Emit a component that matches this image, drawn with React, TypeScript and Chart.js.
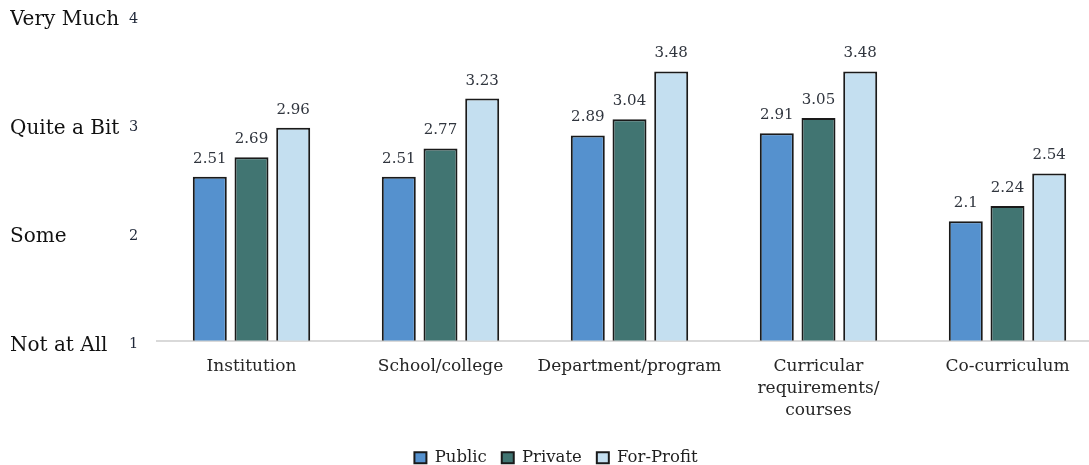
import React, { useEffect, useRef } from "react";
import { Chart, registerables } from "chart.js";

Chart.register(...registerables);

const categories: (string | string[])[] = [
  "Institution",
  "School/college",
  "Department/program",
  ["Curricular", "requirements/", "courses"],
  "Co-curriculum",
];
const publicValues = [2.51, 2.51, 2.89, 2.91, 2.1];
const privateValues = [2.69, 2.77, 3.04, 3.05, 2.24];
const forProfitValues = [2.96, 3.23, 3.48, 3.48, 2.54];
const seriesNames = ["Public", "Private", "For-Profit"];
const scaleWords = ["Not at All", "Some", "Quite a Bit", "Very Much"];
const yTicks = [1, 2, 3, 4];

const FONT = "'DejaVu Serif', serif";

const dataLabelPlugin = {
  id: "dataLabels",
  afterDatasetsDraw(chart: any) {
    const ctx = chart.ctx;
    ctx.save();
    ctx.font = `15px ${FONT}`;
    ctx.fillStyle = "#30353e";
    ctx.textAlign = "center";
    ctx.textBaseline = "alphabetic";
    chart.data.datasets.forEach((ds: any, i: number) => {
      const meta = chart.getDatasetMeta(i);
      meta.data.forEach((bar: any, j: number) => {
        ctx.fillText(String(ds.data[j]), bar.x, bar.y - 14);
      });
    });
    ctx.restore();
  },
};

export default function App() {
  const ref = useRef<HTMLCanvasElement>(null);
  useEffect(() => {
    document.body.style.margin = "0";
    document.body.style.overflow = "hidden";
    const chart = new Chart(ref.current!, {
      type: "bar",
      data: {
        labels: categories,
        datasets: [
          { label: seriesNames[0], data: publicValues, backgroundColor: "#5591ce" },
          { label: seriesNames[1], data: privateValues, backgroundColor: "#417572" },
          { label: seriesNames[2], data: forProfitValues, backgroundColor: "#c4dff0" },
        ].map((d) => ({
          ...d,
          borderColor: "#1a1a1a",
          borderWidth: 2,
          categoryPercentage: 0.662,
          barPercentage: 0.815,
        })),
      },
      options: {
        responsive: false,
        animation: false,
        layout: { padding: { left: 10, top: 15, right: 0, bottom: 0 } },
        plugins: {
          tooltip: { enabled: false },
          legend: {
            position: "bottom",
            labels: {
              boxWidth: 12,
              boxHeight: 11,
              padding: 15,
              color: "#1f1f1f",
              font: { family: FONT, size: 16.5 },
            },
          },
        },
        scales: {
          x: {
            grid: { display: false, drawTicks: false },
            border: { display: true, color: "#d9d9d9", width: 2 },
            ticks: {
              color: "#262626",
              font: { family: FONT, size: 17, lineHeight: 1.3 },
              padding: 15,
              maxRotation: 0,
              autoSkip: false,
            },
            afterFit: (s: any) => {
              s.height = 94;
            },
          },
          y: {
            position: "left",
            weight: 0,
            min: 1,
            max: 4,
            afterBuildTicks: (s: any) => {
              s.ticks = yTicks.map((v) => ({ value: v }));
            },
            grid: { display: false, drawTicks: false },
            border: { display: false },
            ticks: {
              color: "#1f2738",
              font: { family: FONT, size: 14.5 },
              padding: 0,
              crossAlign: "far",
              labelOffset: 4,
            },
            afterFit: (s: any) => {
              s.width = 28;
            },
          },
          yWords: {
            type: "linear",
            position: "left",
            weight: 1,
            min: 1,
            max: 4,
            afterBuildTicks: (s: any) => {
              s.ticks = yTicks.map((v) => ({ value: v }));
            },
            grid: { display: false, drawTicks: false },
            border: { display: false },
            ticks: {
              color: "#111111",
              font: { family: FONT, size: 20 },
              padding: 0,
              crossAlign: "far",
              labelOffset: 5,
              callback: (v: any) => scaleWords[yTicks.indexOf(Number(v))] ?? "",
            },
            afterFit: (s: any) => {
              s.width = 119;
            },
          },
        },
      } as any,
      plugins: [dataLabelPlugin],
    });
    return () => chart.destroy();
  }, []);
  return (
    <div style={{ width: 1102, height: 476, position: "relative" }}>
      <canvas ref={ref} width={1102} height={476} style={{ display: "block" }} />
    </div>
  );
}
